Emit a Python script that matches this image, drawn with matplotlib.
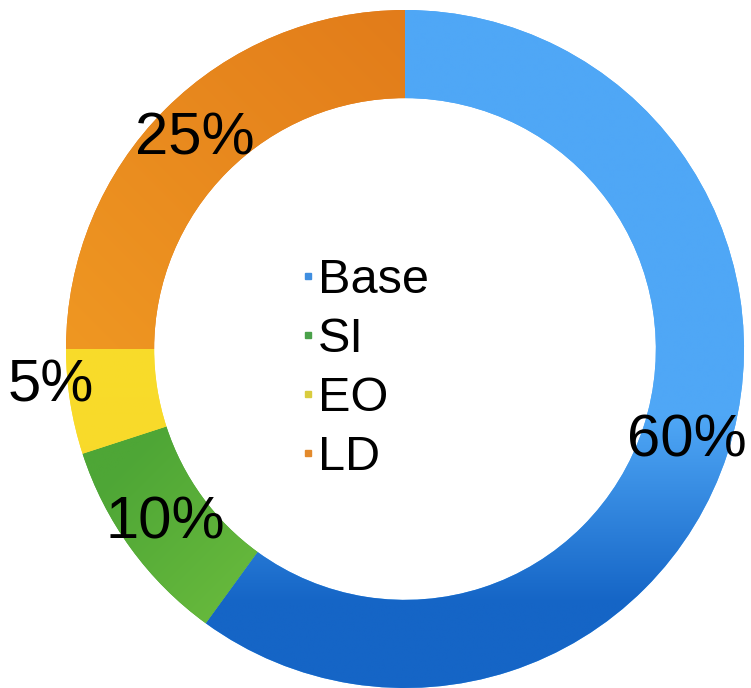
import numpy as np
import matplotlib.pyplot as plt
from matplotlib.colors import to_rgb
from matplotlib.lines import Line2D

plt.rcParams['font.family'] = ['Liberation Sans', 'DejaVu Sans']

labels = ['Base', 'SI', 'EO', 'LD']
shares = [60, 10, 5, 25]
pct_labels = ['60%', '10%', '5%', '25%']

# two-stop gradients per slice: (start colour, end colour, direction, t range)
grad_start = ['#4fa7f6', '#4ea636', '#f9dc2a', '#e27c1a']
grad_end = ['#1565c6', '#6fbf3e', '#f6d52a', '#ef9722']
grad_dir = [(0, -1), (1, -1), (0, -1), (-1, -1)]
grad_span = [(0.2, 0.75), (-0.35, 0.35), (0.0, 1.0), (-0.7, 0.7)]
legend_colors = ['#3f8ee0', '#4aa14a', '#d9cc3e', '#e38a2c']

# slice label distance from centre (the small slice sits outside the ring)
label_r = [0.875, 0.875, 1.05, 0.875]
label_turn = [0, 0, -3, 0]

fig = plt.figure(figsize=(7.51, 6.88), dpi=100)
ax = fig.add_axes([0, 0, 1, 1])

wedges, _ = ax.pie(shares, startangle=90, counterclock=False, radius=1,
                   wedgeprops=dict(width=0.26, linewidth=0),
                   colors=grad_start)

xx, yy = np.meshgrid(np.linspace(-1.05, 1.05, 400), np.linspace(1.05, -1.05, 400))
for w, c0, c1, d, span in zip(wedges, grad_start, grad_end, grad_dir, grad_span):
    d = np.array(d, dtype=float)
    d /= np.hypot(*d)
    proj = xx * d[0] + yy * d[1]
    t = np.clip((proj - span[0]) / (span[1] - span[0]), 0, 1)[..., None]
    img = (1 - t) * np.array(to_rgb(c0)) + t * np.array(to_rgb(c1))
    im = ax.imshow(img, extent=(-1.05, 1.05, -1.05, 1.05), interpolation='bilinear', zorder=2)
    im.set_clip_path(w)

# percentage labels placed along each slice's mid angle
angle = 90
for share, txt, r, turn in zip(shares, pct_labels, label_r, label_turn):
    span = 360 * share / sum(shares)
    mid = np.deg2rad(angle - span / 2 + turn)
    ax.text(r * np.cos(mid), r * np.sin(mid), txt, fontsize=43,
            ha='center', va='center', color='black', zorder=5)
    angle -= span

ax.set_xlim(-405 / 339, (751 - 405) / 339)
ax.set_ylim(-(688 - 349) / 339, 349 / 339)
ax.set_aspect('equal')
ax.axis('off')

handles = [Line2D([], [], marker='s', linestyle='none', markersize=5,
                  markerfacecolor=c, markeredgecolor=c) for c in legend_colors]
fig.legend(handles, labels, loc='center left', bbox_to_anchor=(302 / 751, 1 - 369 / 688),
           frameon=False, fontsize=35, labelspacing=0.29, handlelength=0.25,
           handletextpad=0.08, borderpad=0, borderaxespad=0)

fig.savefig('out.png', dpi=100)
